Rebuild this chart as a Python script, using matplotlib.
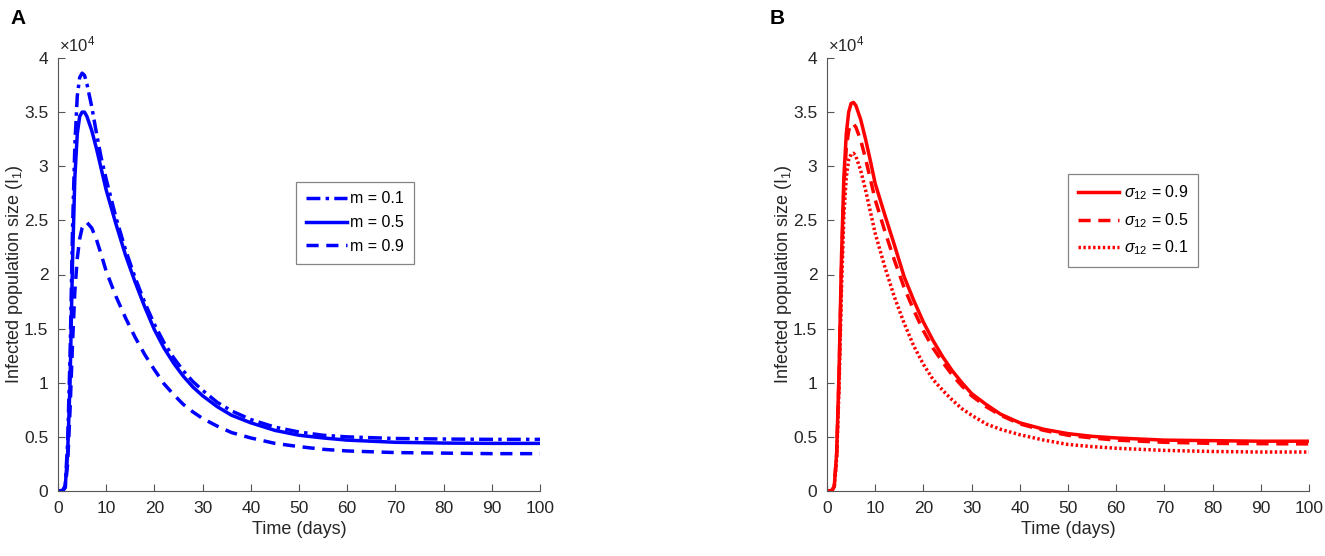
import matplotlib
matplotlib.use("Agg")
import matplotlib.pyplot as plt
from matplotlib.ticker import FormatStrFormatter

plt.rcParams['font.family'] = ['Liberation Sans', 'DejaVu Sans']
plt.rcParams['mathtext.fontset'] = 'custom'
plt.rcParams['mathtext.rm'] = 'Liberation Sans'
plt.rcParams['mathtext.it'] = 'Liberation Sans:italic'

# time points (days)
t = [0, 1, 1.5, 2, 2.5, 3, 3.5, 4, 4.5, 5, 5.5, 6, 7, 8, 9, 10, 12, 14, 16, 18,
     20, 22, 24, 26, 28, 30, 33, 36, 40, 45, 50, 55, 60, 70, 80, 90, 100]

# Panel A: infected population (x 10^4) for different m
I_m01 = [0, 0.006, 0.05, 0.45, 1.25, 2.4, 3.2, 3.65, 3.82, 3.86, 3.84, 3.76, 3.55, 3.3, 3.07, 2.88,
         2.53, 2.23, 1.97, 1.74, 1.54, 1.37, 1.23, 1.11, 1.01, 0.93, 0.82, 0.74, 0.66, 0.59,
         0.545, 0.515, 0.50, 0.485, 0.48, 0.477, 0.477]
I_m05 = [0, 0.005, 0.04, 0.35, 1.0, 2.1, 2.9, 3.3, 3.46, 3.5, 3.5, 3.46, 3.33, 3.16, 2.97, 2.78,
         2.47, 2.18, 1.93, 1.70, 1.49, 1.32, 1.18, 1.06, 0.96, 0.88, 0.78, 0.70, 0.63, 0.56,
         0.515, 0.49, 0.47, 0.45, 0.443, 0.44, 0.44]
I_m09 = [0, 0.004, 0.03, 0.25, 0.75, 1.35, 1.85, 2.15, 2.33, 2.43, 2.47, 2.48, 2.43, 2.32, 2.18, 2.03,
         1.80, 1.60, 1.42, 1.26, 1.12, 0.99, 0.89, 0.80, 0.73, 0.67, 0.60, 0.54, 0.49, 0.44,
         0.41, 0.385, 0.37, 0.355, 0.35, 0.345, 0.345]

# Panel B: infected population (x 10^4) for different sigma_12
I_s09 = [0, 0.005, 0.04, 0.35, 1.1, 2.15, 2.9, 3.3, 3.5, 3.58, 3.59, 3.56, 3.43, 3.25, 3.05, 2.84,
         2.55, 2.27, 1.98, 1.76, 1.56, 1.39, 1.24, 1.11, 1.00, 0.90, 0.80, 0.71, 0.63, 0.57,
         0.53, 0.505, 0.49, 0.47, 0.465, 0.46, 0.46]
I_s05 = [0, 0.005, 0.04, 0.33, 1.05, 2.05, 2.8, 3.17, 3.33, 3.39, 3.39, 3.36, 3.24, 3.07, 2.88, 2.69,
         2.40, 2.13, 1.88, 1.67, 1.48, 1.32, 1.19, 1.07, 0.97, 0.88, 0.78, 0.70, 0.62, 0.56,
         0.515, 0.49, 0.47, 0.45, 0.44, 0.437, 0.435]
I_s01 = [0, 0.004, 0.035, 0.3, 0.95, 1.85, 2.55, 2.9, 3.06, 3.11, 3.12, 3.09, 2.96, 2.78, 2.58, 2.38,
         2.07, 1.79, 1.55, 1.34, 1.17, 1.03, 0.93, 0.84, 0.76, 0.70, 0.62, 0.57, 0.52, 0.47,
         0.43, 0.41, 0.395, 0.375, 0.365, 0.36, 0.36]

labels_A = ['m = 0.1', 'm = 0.5', 'm = 0.9']
labels_B = [r'$\sigma_{12}$ = 0.9', r'$\sigma_{12}$ = 0.5', r'$\sigma_{12}$ = 0.1']
xticks = [0, 10, 20, 30, 40, 50, 60, 70, 80, 90, 100]
yticks = [0, 0.5, 1, 1.5, 2, 2.5, 3, 3.5, 4]

W, H = 1325, 556
fig = plt.figure(figsize=(W / 100, H / 100), dpi=100)
axA = fig.add_axes([58 / W, (H - 491) / H, 482 / W, 433 / H])
axB = fig.add_axes([827 / W, (H - 491) / H, 482 / W, 433 / H])

blue = '#0000FF'
red = '#FF0000'
lw = 2.5

axA.plot(t, I_m01, color=blue, lw=lw, ls=(0, (4, 1.5, 1, 1.5)), label=labels_A[0])
axA.plot(t, I_m05, color=blue, lw=lw, ls='-', label=labels_A[1])
axA.plot(t, I_m09, color=blue, lw=lw, ls=(0, (3.5, 2.2)), label=labels_A[2])

axB.plot(t, I_s09, color=red, lw=lw, ls='-', label=labels_B[0])
axB.plot(t, I_s05, color=red, lw=lw, ls=(0, (3.5, 2.2)), label=labels_B[1])
axB.plot(t, I_s01, color=red, lw=lw, ls=(0, (0.7, 0.7)), label=labels_B[2])

axcol = '#262626'
for ax, pl, xlab in ((axA, 'A', 15), (axB, 'B', 783)):
    ax.set_xlim(0, 100)
    ax.set_ylim(0, 4)
    ax.set_xticks(xticks)
    ax.set_yticks(yticks)
    ax.yaxis.set_major_formatter(FormatStrFormatter('%g'))
    ax.spines['top'].set_visible(False)
    ax.spines['right'].set_visible(False)
    for s in ('left', 'bottom'):
        ax.spines[s].set_color('#555555')
        ax.spines[s].set_linewidth(0.8)
    ax.tick_params(direction='in', length=5, width=0.8, colors='#555555',
                   labelcolor=axcol, labelsize=12.5, pad=7)
    ax.set_xlabel('Time (days)', fontsize=13, color=axcol, labelpad=4)
    ax.text(0.003, 1.008, r'$\times10^4$', transform=ax.transAxes, fontsize=12,
            color=axcol, ha='left', va='bottom')
    fig.text(xlab / W, 1 - 274 / H, r'Infected population size (I$_1$)', rotation=90,
             ha='center', va='center', fontsize=13, color=axcol)

fig.text(10 / W, 1 - 19 / H, 'A', fontsize=15, fontweight='bold', ha='left', va='center')
fig.text(770 / W, 1 - 19 / H, 'B', fontsize=15, fontweight='bold', ha='left', va='center')

legA = axA.legend(loc='upper left', bbox_to_anchor=(0.494, 0.714), fontsize=11.5,
                  frameon=True, fancybox=False, edgecolor='#666666', handlelength=2.6,
                  borderpad=0.6, labelspacing=0.55, handletextpad=0.2, borderaxespad=0)
legA.get_frame().set_linewidth(0.9)
legB = axB.legend(loc='upper left', bbox_to_anchor=(0.50, 0.732), fontsize=11.5,
                  frameon=True, fancybox=False, edgecolor='#666666', handlelength=2.6,
                  borderpad=0.6, labelspacing=0.55, handletextpad=0.3, borderaxespad=0)
legB.get_frame().set_linewidth(0.9)

fig.savefig('out.png', dpi=100)
